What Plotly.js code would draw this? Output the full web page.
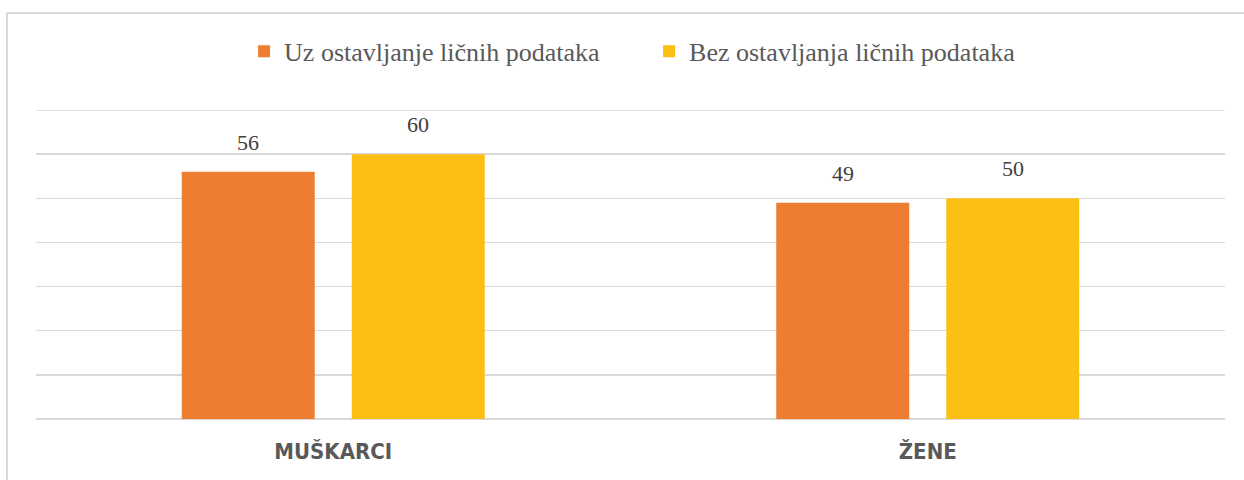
<!DOCTYPE html>
<html>
<head>
<meta charset="utf-8">
<script src="https://cdn.plot.ly/plotly-3.0.1.min.js"></script>
<style>html,body{margin:0;padding:0;background:#fff;}#chart{width:1244px;height:480px;}</style>
</head>
<body>
<div id="chart"></div>
<script>
const categories = ["MUŠKARCI", "ŽENE"];
const seriesNames = ["Uz ostavljanje ličnih podataka", "Bez ostavljanja ličnih podataka"];
const withData = [56, 49];
const withoutData = [60, 50];
const colors = ["#ED7D31", "#FCC015"];
const yMax = 70;

const serif = "Liberation Serif, DejaVu Serif, serif";
const narrow = "DejaVu Sans Condensed, Liberation Sans Narrow, sans-serif";

const mk = (name, vals, color) => ({
  type: "bar",
  name: name,
  x: categories,
  y: vals,
  marker: {color: color},
  hoverinfo: "skip"
});

const data = [
  mk(seriesNames[0], withData, colors[0]),
  mk(seriesNames[1], withoutData, colors[1])
];

// value labels placed above each bar, offset to the bar slot within the group
const slotShift = 85;
const annotations = [];
[withData, withoutData].forEach((vals, si) => {
  vals.forEach((v, ci) => {
    annotations.push({
      x: categories[ci], y: v, xref: "x", yref: "y",
      text: String(v), showarrow: false,
      xshift: si === 0 ? -slotShift : slotShift,
      yanchor: "bottom", yshift: 15,
      font: {family: serif, size: 22, color: "#404040"}
    });
  });
});

const layout = {
  width: 1244, height: 480,
  margin: {l: 36, r: 19, t: 110, b: 61},
  paper_bgcolor: "#ffffff",
  plot_bgcolor: "#ffffff",
  barmode: "group",
  bargap: 0.428,
  bargroupgap: 0.218,
  showlegend: true,
  legend: {
    orientation: "h", x: 0.175, xanchor: "left", y: 1.19, yanchor: "middle",
    entrywidth: 360, entrywidthmode: "pixels",
    font: {family: serif, size: 26, color: "#595959"},
    itemclick: false, itemdoubleclick: false
  },
  xaxis: {
    showgrid: false, zeroline: false, showline: false,
    ticks: "", ticklabelstandoff: 17,
    tickfont: {family: narrow, size: 22, color: "#595959", weight: "bold"}
  },
  yaxis: {
    range: [0, yMax], dtick: 10, tick0: 0,
    showticklabels: false, ticks: "",
    showgrid: true, gridcolor: "#d9d9d9", gridwidth: 1.3,
    zeroline: true, zerolinecolor: "#d9d9d9", zerolinewidth: 1.5,
    showline: false
  },
  annotations: annotations,
  shapes: [
    {type: "line", xref: "paper", yref: "y", x0: 0, x1: 1, y0: yMax, y1: yMax,
     line: {color: "#d9d9d9", width: 1.3}},
    {type: "line", xref: "paper", yref: "paper", x0: -0.0244, x1: -0.0244, y0: -0.3, y1: 1.314,
     line: {color: "#d9d9d9", width: 2}},
    {type: "line", xref: "paper", yref: "paper", x0: -0.0244, x1: 1.05, y0: 1.314, y1: 1.314,
     line: {color: "#d9d9d9", width: 2}}
  ]
};

Plotly.newPlot("chart", data, layout, {displayModeBar: false, staticPlot: true});
</script>
</body>
</html>
